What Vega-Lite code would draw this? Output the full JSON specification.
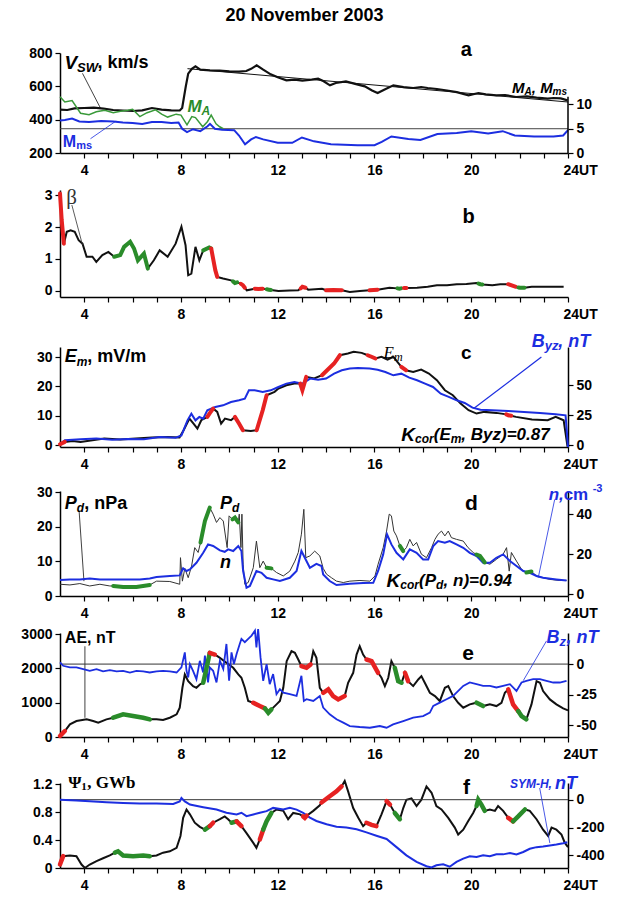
{
"$schema":"https://vega.github.io/schema/vega-lite/v6.json",
"padding":{"left":20,"top":7,"right":5,"bottom":5},
"title":{"text":"20 November 2003","font":"Liberation Sans","fontSize":18,"fontWeight":"bold","color":"#000","anchor":"middle","dx":-8,"offset":15},
"config":{"view":{"stroke":null},"axis":{"labelFont":"Liberation Sans","labelFontSize":14,"labelFontWeight":"bold","labelColor":"#000","domainColor":"#000","domainWidth":1.5,"tickColor":"#000","tickWidth":1.2,"tickSize":5,"grid":false,"labelPadding":3,"labelOverlap":false,"labelFlush":false,"tickCount":100}},
"datasets":{
"vsw":[{"t":3,"v":460},{"t":3.3,"v":458},{"t":3.6,"v":468},{"t":4,"v":470},{"t":4.4,"v":472},{"t":4.8,"v":466},{"t":5.2,"v":458},{"t":5.6,"v":455},{"t":6,"v":452},{"t":6.4,"v":456},{"t":6.8,"v":470},{"t":7.2,"v":460},{"t":7.6,"v":456},{"t":7.95,"v":455},{"t":8.05,"v":470},{"t":8.2,"v":600},{"t":8.3,"v":676},{"t":8.45,"v":705},{"t":8.6,"v":720},{"t":8.8,"v":700},{"t":9.2,"v":696},{"t":9.6,"v":694},{"t":10,"v":690},{"t":10.4,"v":688},{"t":10.7,"v":692},{"t":10.9,"v":705},{"t":11.13,"v":726},{"t":11.4,"v":700},{"t":11.71,"v":672},{"t":12,"v":655},{"t":12.36,"v":636},{"t":12.7,"v":640},{"t":13.02,"v":634},{"t":13.4,"v":640},{"t":13.67,"v":646},{"t":13.9,"v":630},{"t":14.16,"v":606},{"t":14.4,"v":620},{"t":14.82,"v":630},{"t":15.2,"v":615},{"t":15.6,"v":600},{"t":15.9,"v":575},{"t":16.13,"v":560},{"t":16.4,"v":580},{"t":16.78,"v":606},{"t":17.2,"v":595},{"t":17.6,"v":590},{"t":17.93,"v":596},{"t":18.2,"v":590},{"t":18.58,"v":584},{"t":19,"v":575},{"t":19.4,"v":565},{"t":19.89,"v":546},{"t":20.3,"v":560},{"t":20.6,"v":552},{"t":21.04,"v":546},{"t":21.4,"v":548},{"t":21.85,"v":536},{"t":22.3,"v":540},{"t":22.7,"v":532},{"t":23.16,"v":526},{"t":23.4,"v":530},{"t":23.7,"v":528},{"t":23.98,"v":516}],
"ma":[{"t":3,"v":11.6},{"t":3.2,"v":10.5},{"t":3.5,"v":10.8},{"t":3.85,"v":8.2},{"t":4.2,"v":7.9},{"t":4.5,"v":8.5},{"t":4.85,"v":8.8},{"t":5.2,"v":8.3},{"t":5.5,"v":8.6},{"t":5.8,"v":8.8},{"t":6,"v":9},{"t":6.3,"v":7.5},{"t":6.6,"v":8.3},{"t":6.95,"v":8.9},{"t":7.2,"v":8},{"t":7.45,"v":7.4},{"t":7.8,"v":8},{"t":8,"v":7.8},{"t":8.25,"v":5.8},{"t":8.45,"v":7.5},{"t":8.6,"v":7.3},{"t":8.9,"v":5.4},{"t":9.1,"v":6.5},{"t":9.25,"v":7.8},{"t":9.45,"v":6},{"t":9.6,"v":5.4},{"t":9.75,"v":5}],
"mms":[{"t":3,"v":6.7},{"t":3.2,"v":6.8},{"t":3.5,"v":7.1},{"t":3.8,"v":6.5},{"t":4.2,"v":6.4},{"t":4.7,"v":6.6},{"t":5.2,"v":6.5},{"t":5.6,"v":6.3},{"t":6,"v":6.2},{"t":6.4,"v":6},{"t":6.8,"v":6.4},{"t":7.2,"v":6.4},{"t":7.6,"v":6.2},{"t":7.9,"v":6.3},{"t":8.05,"v":5},{"t":8.25,"v":4.3},{"t":8.5,"v":4.9},{"t":8.8,"v":4.5},{"t":9.1,"v":5.5},{"t":9.2,"v":6},{"t":9.4,"v":5},{"t":9.7,"v":4.8},{"t":10.2,"v":4.7},{"t":10.4,"v":3.6},{"t":10.65,"v":1.8},{"t":10.9,"v":2.8},{"t":11.1,"v":3.3},{"t":11.4,"v":2.8},{"t":12,"v":2.1},{"t":12.6,"v":2.1},{"t":13,"v":3.2},{"t":13.5,"v":2.4},{"t":14.2,"v":1.8},{"t":15.3,"v":1.6},{"t":16,"v":1.6},{"t":16.3,"v":2.3},{"t":16.7,"v":3.4},{"t":17.4,"v":2.9},{"t":17.9,"v":2.7},{"t":18.6,"v":3.9},{"t":19.4,"v":4.1},{"t":20,"v":4.5},{"t":20.7,"v":4},{"t":21.3,"v":4.5},{"t":21.8,"v":3.6},{"t":22.6,"v":3.4},{"t":23.4,"v":3.4},{"t":23.8,"v":3.6},{"t":24,"v":4.7}],
"beta":[{"t":3,"v":3.05},{"t":3.07,"v":2.22},{"t":3.16,"v":1.48},{"t":3.28,"v":1.85},{"t":3.44,"v":1.9},{"t":3.61,"v":1.85},{"t":3.77,"v":1.59},{"t":3.93,"v":1.48},{"t":4.1,"v":1.07},{"t":4.34,"v":1.07},{"t":4.5,"v":0.91},{"t":4.75,"v":1.12},{"t":5,"v":1.22},{"t":5.24,"v":1.07},{"t":5.49,"v":1.12},{"t":5.65,"v":1.38},{"t":5.9,"v":1.54},{"t":6.06,"v":1.33},{"t":6.22,"v":0.96},{"t":6.47,"v":1.17},{"t":6.63,"v":0.7},{"t":6.88,"v":0.96},{"t":7.12,"v":1.27},{"t":7.45,"v":1.07},{"t":7.78,"v":1.48},{"t":8.02,"v":2.01},{"t":8.19,"v":1.43},{"t":8.3,"v":0.49},{"t":8.43,"v":0.54},{"t":8.6,"v":1.38},{"t":8.76,"v":0.96},{"t":8.92,"v":1.27},{"t":9.17,"v":1.36},{"t":9.25,"v":1.33},{"t":9.42,"v":0.65},{"t":9.5,"v":0.44},{"t":9.74,"v":0.39},{"t":10.07,"v":0.33},{"t":10.15,"v":0.3},{"t":10.23,"v":0.25},{"t":10.32,"v":0.27},{"t":10.48,"v":0.22},{"t":10.56,"v":0.18},{"t":10.64,"v":0.1},{"t":10.72,"v":0.02},{"t":11.05,"v":0.07},{"t":11.2,"v":0.06},{"t":11.38,"v":0.07},{"t":11.55,"v":0.05},{"t":11.63,"v":0.04},{"t":11.72,"v":0.03},{"t":12.03,"v":0},{"t":12.5,"v":0.01},{"t":12.85,"v":0.02},{"t":12.95,"v":0.08},{"t":13.02,"v":0.13},{"t":13.15,"v":0.1},{"t":13.26,"v":0.04},{"t":13.83,"v":0.07},{"t":14,"v":0.02},{"t":14.3,"v":0.03},{"t":14.65,"v":0.02},{"t":14.98,"v":-0.03},{"t":15.4,"v":0},{"t":15.8,"v":0.02},{"t":16.13,"v":0.04},{"t":16.62,"v":0.1},{"t":16.95,"v":0.08},{"t":17.03,"v":0.07},{"t":17.1,"v":0.08},{"t":17.22,"v":0.09},{"t":17.32,"v":0.09},{"t":17.76,"v":0.1},{"t":18.2,"v":0.13},{"t":18.58,"v":0.18},{"t":19,"v":0.18},{"t":19.4,"v":0.21},{"t":19.8,"v":0.22},{"t":20.22,"v":0.25},{"t":20.3,"v":0.23},{"t":20.38,"v":0.21},{"t":20.46,"v":0.2},{"t":20.87,"v":0.18},{"t":21.2,"v":0.21},{"t":21.53,"v":0.21},{"t":21.85,"v":0.13},{"t":21.95,"v":0.11},{"t":22.02,"v":0.1},{"t":22.2,"v":0.1},{"t":22.5,"v":0.13},{"t":23,"v":0.13},{"t":23.82,"v":0.13}],
"betaH":[{"t":3,"v":3.05,"seg":"r1","k":"R"},{"t":3.07,"v":2.22,"seg":"r1","k":"R"},{"t":3.16,"v":1.48,"seg":"r1","k":"R"},{"t":5.24,"v":1.07,"seg":"g1","k":"G"},{"t":5.49,"v":1.12,"seg":"g1","k":"G"},{"t":5.65,"v":1.38,"seg":"g1","k":"G"},{"t":5.9,"v":1.54,"seg":"g1","k":"G"},{"t":6.06,"v":1.33,"seg":"g1","k":"G"},{"t":6.22,"v":0.96,"seg":"g1","k":"G"},{"t":6.47,"v":1.17,"seg":"g1","k":"G"},{"t":6.63,"v":0.7,"seg":"g1","k":"G"},{"t":8.92,"v":1.27,"seg":"g2","k":"G"},{"t":9.17,"v":1.36,"seg":"g2","k":"G"},{"t":9.25,"v":1.33,"seg":"g2","k":"G"},{"t":9.25,"v":1.33,"seg":"r2","k":"R"},{"t":9.42,"v":0.65,"seg":"r2","k":"R"},{"t":9.5,"v":0.44,"seg":"r2","k":"R"},{"t":10.15,"v":0.3,"seg":"g3","k":"G"},{"t":10.23,"v":0.25,"seg":"g3","k":"G"},{"t":10.32,"v":0.27,"seg":"g3","k":"G"},{"t":10.48,"v":0.22,"seg":"r3","k":"R"},{"t":10.56,"v":0.18,"seg":"r3","k":"R"},{"t":10.64,"v":0.1,"seg":"r3","k":"R"},{"t":11.05,"v":0.07,"seg":"r4","k":"R"},{"t":11.2,"v":0.06,"seg":"r4","k":"R"},{"t":11.38,"v":0.07,"seg":"r4","k":"R"},{"t":11.55,"v":0.05,"seg":"g4","k":"G"},{"t":11.63,"v":0.04,"seg":"g4","k":"G"},{"t":11.72,"v":0.03,"seg":"g4","k":"G"},{"t":12.95,"v":0.08,"seg":"r5","k":"R"},{"t":13.02,"v":0.13,"seg":"r5","k":"R"},{"t":13.15,"v":0.1,"seg":"r5","k":"R"},{"t":14,"v":0.02,"seg":"r6","k":"R"},{"t":14.3,"v":0.03,"seg":"r6","k":"R"},{"t":14.65,"v":0.02,"seg":"r6","k":"R"},{"t":15.8,"v":0.02,"seg":"r7","k":"R"},{"t":16.13,"v":0.04,"seg":"r7","k":"R"},{"t":16.95,"v":0.08,"seg":"g5","k":"G"},{"t":17.03,"v":0.07,"seg":"g5","k":"G"},{"t":17.1,"v":0.08,"seg":"g5","k":"G"},{"t":17.22,"v":0.09,"seg":"r8","k":"R"},{"t":17.32,"v":0.09,"seg":"r8","k":"R"},{"t":20.3,"v":0.23,"seg":"g6","k":"G"},{"t":20.38,"v":0.21,"seg":"g6","k":"G"},{"t":20.46,"v":0.2,"seg":"g6","k":"G"},{"t":21.53,"v":0.21,"seg":"r9","k":"R"},{"t":21.85,"v":0.13,"seg":"r9","k":"R"},{"t":21.95,"v":0.11,"seg":"g7","k":"G"},{"t":22.02,"v":0.1,"seg":"g7","k":"G"},{"t":22.2,"v":0.1,"seg":"g7","k":"G"}],
"em":[{"t":3,"v":0.34},{"t":3.2,"v":1.13},{"t":3.52,"v":1.47},{"t":3.85,"v":1.13},{"t":4.34,"v":1.7},{"t":4.83,"v":2.27},{"t":5.49,"v":1.93},{"t":6.14,"v":2.27},{"t":6.8,"v":2.61},{"t":7.45,"v":2.83},{"t":7.94,"v":2.61},{"t":8.11,"v":5.1},{"t":8.35,"v":9.07},{"t":8.52,"v":7.37},{"t":8.68,"v":5.67},{"t":8.84,"v":8.5},{"t":9.09,"v":9.64},{"t":9.2,"v":11},{"t":9.33,"v":12.47},{"t":9.5,"v":11.34},{"t":9.66,"v":7.37},{"t":9.82,"v":9.07},{"t":10.07,"v":8.5},{"t":10.23,"v":9.64},{"t":10.4,"v":7.37},{"t":10.56,"v":5.1},{"t":10.89,"v":4.88},{"t":11.13,"v":5.1},{"t":11.38,"v":11.9},{"t":11.54,"v":17},{"t":11.87,"v":18.14},{"t":12.03,"v":19.27},{"t":12.36,"v":20.4},{"t":12.69,"v":20.98},{"t":12.93,"v":20.98},{"t":13.02,"v":18.7},{"t":13.18,"v":23.24},{"t":13.51,"v":22.68},{"t":13.83,"v":23.81},{"t":14.33,"v":27.78},{"t":14.57,"v":30.6},{"t":14.9,"v":31.18},{"t":15.14,"v":31.75},{"t":15.47,"v":31.4},{"t":15.72,"v":30.6},{"t":15.9,"v":30},{"t":16.04,"v":29.48},{"t":16.29,"v":30.05},{"t":16.54,"v":29.14},{"t":16.78,"v":30.05},{"t":17.11,"v":26.64},{"t":17.3,"v":25.5},{"t":17.6,"v":24.94},{"t":17.93,"v":25.7},{"t":18.25,"v":24.38},{"t":18.58,"v":22.1},{"t":18.91,"v":18.7},{"t":19.24,"v":17},{"t":19.56,"v":14.17},{"t":19.89,"v":11.9},{"t":20.22,"v":10.77},{"t":20.54,"v":11.34},{"t":21.04,"v":11},{"t":21.45,"v":10.5},{"t":21.53,"v":10.2},{"t":21.65,"v":10},{"t":21.85,"v":9.64},{"t":22.51,"v":8.73},{"t":23.16,"v":8.5},{"t":23.49,"v":9.64},{"t":23.82,"v":8.5},{"t":23.9,"v":4},{"t":23.98,"v":-0.5}],
"emH":[{"t":3,"v":0.34,"seg":"r1","k":"R"},{"t":3.2,"v":1.13,"seg":"r1","k":"R"},{"t":9.09,"v":9.64,"seg":"r2","k":"R"},{"t":9.2,"v":11,"seg":"r2","k":"R"},{"t":9.33,"v":12.47,"seg":"r2","k":"R"},{"t":10.23,"v":9.64,"seg":"r3","k":"R"},{"t":10.4,"v":7.37,"seg":"r3","k":"R"},{"t":10.56,"v":5.1,"seg":"r3","k":"R"},{"t":11.13,"v":5.1,"seg":"r4","k":"R"},{"t":11.38,"v":11.9,"seg":"r4","k":"R"},{"t":11.54,"v":17,"seg":"r4","k":"R"},{"t":12.93,"v":20.98,"seg":"r5","k":"R"},{"t":13.02,"v":18.7,"seg":"r5","k":"R"},{"t":13.18,"v":23.24,"seg":"r5","k":"R"},{"t":13.83,"v":23.81,"seg":"r6","k":"R"},{"t":14.33,"v":27.78,"seg":"r6","k":"R"},{"t":14.57,"v":30.6,"seg":"r6","k":"R"},{"t":15.72,"v":30.6,"seg":"r7","k":"R"},{"t":15.9,"v":30,"seg":"r7","k":"R"},{"t":16.04,"v":29.48,"seg":"r7","k":"R"},{"t":17.11,"v":26.64,"seg":"r8","k":"R"},{"t":17.3,"v":25.5,"seg":"r8","k":"R"},{"t":21.45,"v":10.5,"seg":"r9","k":"R"},{"t":21.53,"v":10.2,"seg":"r9","k":"R"},{"t":21.65,"v":10,"seg":"r9","k":"R"}],
"byz":[{"t":3,"v":0.8},{"t":3.2,"v":4.2},{"t":3.85,"v":5},{"t":4.5,"v":5.6},{"t":5.16,"v":4.7},{"t":5.82,"v":5.3},{"t":6.47,"v":5},{"t":7.12,"v":6.9},{"t":7.78,"v":6.4},{"t":8.02,"v":8.3},{"t":8.27,"v":20.8},{"t":8.43,"v":26.4},{"t":8.6,"v":20.8},{"t":8.76,"v":23.6},{"t":8.92,"v":22.2},{"t":9.09,"v":29.2},{"t":9.42,"v":31.9},{"t":9.74,"v":33.3},{"t":10.07,"v":36.1},{"t":10.4,"v":37.5},{"t":10.64,"v":38.9},{"t":10.81,"v":45.8},{"t":11.05,"v":45.8},{"t":11.38,"v":44.4},{"t":11.71,"v":45.8},{"t":12.03,"v":48.6},{"t":12.36,"v":51.4},{"t":12.69,"v":52.8},{"t":13.02,"v":51.4},{"t":13.34,"v":55.6},{"t":13.67,"v":54.7},{"t":14,"v":55.6},{"t":14.33,"v":59.7},{"t":14.65,"v":62.5},{"t":14.98,"v":63.9},{"t":15.31,"v":64.4},{"t":15.8,"v":63.9},{"t":16.13,"v":63},{"t":16.45,"v":61.1},{"t":16.78,"v":58.3},{"t":17.11,"v":59.7},{"t":17.44,"v":56.4},{"t":17.76,"v":54.2},{"t":18.09,"v":51.4},{"t":18.42,"v":48.6},{"t":18.74,"v":43},{"t":19.07,"v":40.3},{"t":19.4,"v":37.5},{"t":19.73,"v":35.3},{"t":20.05,"v":31.4},{"t":20.38,"v":29.7},{"t":20.87,"v":29.2},{"t":21.53,"v":28.6},{"t":22.18,"v":27.8},{"t":22.84,"v":26.9},{"t":23.49,"v":25.8},{"t":23.9,"v":25},{"t":24,"v":-1.4}],
"pd":[{"t":3,"v":3.4},{"t":3.41,"v":3.2},{"t":3.82,"v":3.6},{"t":4.23,"v":2.9},{"t":4.65,"v":3.4},{"t":5.06,"v":2.9},{"t":5.2,"v":2.9},{"t":5.61,"v":2.6},{"t":6.16,"v":2.6},{"t":6.71,"v":3.2},{"t":6.99,"v":4.3},{"t":7.54,"v":4.2},{"t":7.95,"v":3.4},{"t":7.98,"v":11.1},{"t":8.06,"v":4.3},{"t":8.16,"v":8},{"t":8.3,"v":5.3},{"t":8.44,"v":8.7},{"t":8.57,"v":14},{"t":8.71,"v":12.6},{"t":8.81,"v":15.5},{"t":8.99,"v":21.7},{"t":9.19,"v":25.6},{"t":9.33,"v":23.7},{"t":9.47,"v":21.3},{"t":9.61,"v":22.7},{"t":9.75,"v":21.7},{"t":9.91,"v":14},{"t":9.99,"v":23.2},{"t":10.13,"v":22.2},{"t":10.23,"v":22.7},{"t":10.37,"v":21.3},{"t":10.41,"v":23.7},{"t":10.48,"v":14},{"t":10.52,"v":23.7},{"t":10.57,"v":9.2},{"t":10.64,"v":3.4},{"t":10.78,"v":3.9},{"t":10.99,"v":8.2},{"t":11.12,"v":15.9},{"t":11.26,"v":8.2},{"t":11.4,"v":10.1},{"t":11.54,"v":8.2},{"t":11.74,"v":8},{"t":11.95,"v":6.8},{"t":12.23,"v":5.8},{"t":12.5,"v":7.2},{"t":12.71,"v":10.1},{"t":12.85,"v":12.6},{"t":12.98,"v":17.9},{"t":13.08,"v":25.1},{"t":13.16,"v":11.1},{"t":13.33,"v":11.6},{"t":13.53,"v":13},{"t":13.74,"v":11.6},{"t":13.88,"v":8},{"t":14.02,"v":6.3},{"t":14.22,"v":5.3},{"t":14.43,"v":4.3},{"t":14.71,"v":3.9},{"t":14.98,"v":4.3},{"t":15.4,"v":4.5},{"t":15.81,"v":4.3},{"t":16.02,"v":5.8},{"t":16.15,"v":9.2},{"t":16.36,"v":14},{"t":16.5,"v":18.8},{"t":16.61,"v":23.7},{"t":16.7,"v":23.2},{"t":16.8,"v":18.8},{"t":16.91,"v":17.4},{"t":17.05,"v":14.5},{"t":17.19,"v":13},{"t":17.32,"v":14},{"t":17.46,"v":16.4},{"t":17.6,"v":14.5},{"t":17.74,"v":15.5},{"t":17.94,"v":12.1},{"t":18.15,"v":11.1},{"t":18.36,"v":14},{"t":18.5,"v":16.4},{"t":18.63,"v":17.9},{"t":18.77,"v":18.8},{"t":18.91,"v":17.4},{"t":19.05,"v":18.8},{"t":19.18,"v":16.9},{"t":19.39,"v":16.4},{"t":19.67,"v":15.9},{"t":19.87,"v":14},{"t":20.08,"v":12.6},{"t":20.22,"v":12},{"t":20.36,"v":11.6},{"t":20.56,"v":9.7},{"t":20.77,"v":9.2},{"t":21.04,"v":10.6},{"t":21.32,"v":12.1},{"t":21.46,"v":14},{"t":21.57,"v":7.2},{"t":21.66,"v":12.6},{"t":21.87,"v":10.1},{"t":22.08,"v":7.7},{"t":22.28,"v":6.8},{"t":22.49,"v":7.1},{"t":22.7,"v":5.8},{"t":22.97,"v":5.3},{"t":23.25,"v":4.8},{"t":23.66,"v":4.5},{"t":23.94,"v":4.5}],
"pdH":[{"t":5.2,"v":2.9,"seg":"g1","k":"G"},{"t":5.61,"v":2.6,"seg":"g1","k":"G"},{"t":6.16,"v":2.6,"seg":"g1","k":"G"},{"t":6.71,"v":3.2,"seg":"g1","k":"G"},{"t":8.81,"v":15.5,"seg":"g2","k":"G"},{"t":8.99,"v":21.7,"seg":"g2","k":"G"},{"t":9.19,"v":25.6,"seg":"g2","k":"G"},{"t":10.13,"v":22.2,"seg":"g3","k":"G"},{"t":10.23,"v":22.7,"seg":"g3","k":"G"},{"t":10.37,"v":21.3,"seg":"g3","k":"G"},{"t":11.54,"v":8.2,"seg":"g4","k":"G"},{"t":11.74,"v":8,"seg":"g4","k":"G"},{"t":17.05,"v":14.5,"seg":"g5","k":"G"},{"t":17.19,"v":13,"seg":"g5","k":"G"},{"t":20.22,"v":12,"seg":"g6","k":"G"},{"t":20.36,"v":11.6,"seg":"g6","k":"G"},{"t":20.56,"v":9.7,"seg":"g6","k":"G"},{"t":22.28,"v":6.8,"seg":"g7","k":"G"},{"t":22.49,"v":7.1,"seg":"g7","k":"G"}],
"n":[{"t":3,"v":7.2},{"t":3.41,"v":7.5},{"t":3.82,"v":7.5},{"t":4.23,"v":8},{"t":4.65,"v":7.5},{"t":5.61,"v":7.5},{"t":6.3,"v":7.5},{"t":6.71,"v":8},{"t":6.99,"v":8.7},{"t":7.54,"v":9.2},{"t":7.95,"v":9.5},{"t":8.09,"v":13},{"t":8.23,"v":11.7},{"t":8.37,"v":12.5},{"t":8.64,"v":15.8},{"t":8.92,"v":20.8},{"t":9.12,"v":25},{"t":9.33,"v":24.2},{"t":9.61,"v":22},{"t":9.81,"v":21.3},{"t":9.95,"v":22.5},{"t":10.16,"v":21.7},{"t":10.37,"v":24.2},{"t":10.5,"v":21.7},{"t":10.57,"v":11.7},{"t":10.71,"v":3.3},{"t":10.85,"v":4.2},{"t":11.12,"v":11.7},{"t":11.33,"v":10.8},{"t":11.54,"v":8.3},{"t":11.81,"v":7.5},{"t":12.09,"v":6.7},{"t":12.5,"v":8.3},{"t":12.78,"v":11.7},{"t":12.98,"v":21.7},{"t":13.12,"v":18.3},{"t":13.33,"v":13.3},{"t":13.6,"v":15.3},{"t":13.81,"v":14.2},{"t":13.88,"v":10},{"t":14.15,"v":6.7},{"t":14.43,"v":4.7},{"t":14.98,"v":5.3},{"t":15.53,"v":5.7},{"t":15.95,"v":5.8},{"t":16.15,"v":11.7},{"t":16.36,"v":20},{"t":16.52,"v":30},{"t":16.7,"v":25},{"t":16.91,"v":20.8},{"t":17.19,"v":17.5},{"t":17.46,"v":22.5},{"t":17.74,"v":20.8},{"t":18.01,"v":17.5},{"t":18.22,"v":17.5},{"t":18.43,"v":24.2},{"t":18.63,"v":26.7},{"t":18.91,"v":25.8},{"t":19.11,"v":26.7},{"t":19.39,"v":25},{"t":19.67,"v":23.3},{"t":19.94,"v":20.8},{"t":20.22,"v":19.2},{"t":20.49,"v":15.8},{"t":20.77,"v":15.8},{"t":21.04,"v":18.3},{"t":21.32,"v":20},{"t":21.6,"v":16.7},{"t":21.87,"v":14.2},{"t":22.15,"v":11.7},{"t":22.42,"v":10.8},{"t":22.7,"v":9.2},{"t":22.97,"v":8.3},{"t":23.52,"v":7.5},{"t":23.94,"v":7}],
"ae":[{"t":3,"v":29},{"t":3.2,"v":174},{"t":3.41,"v":368},{"t":3.68,"v":465},{"t":4.1,"v":514},{"t":4.37,"v":465},{"t":4.58,"v":417},{"t":4.92,"v":514},{"t":5.2,"v":562},{"t":5.61,"v":659},{"t":6.02,"v":610},{"t":6.44,"v":562},{"t":6.71,"v":514},{"t":6.99,"v":514},{"t":7.26,"v":494},{"t":7.54,"v":562},{"t":7.82,"v":659},{"t":7.95,"v":853},{"t":8.06,"v":1434},{"t":8.16,"v":1822},{"t":8.3,"v":1628},{"t":8.5,"v":1483},{"t":8.64,"v":1434},{"t":8.78,"v":1531},{"t":8.92,"v":1580},{"t":9.06,"v":2016},{"t":9.19,"v":2452},{"t":9.4,"v":2403},{"t":9.61,"v":2306},{"t":9.88,"v":2161},{"t":10.16,"v":2016},{"t":10.37,"v":1822},{"t":10.5,"v":1725},{"t":10.64,"v":1434},{"t":10.78,"v":1047},{"t":10.99,"v":998},{"t":11.26,"v":901},{"t":11.47,"v":833},{"t":11.61,"v":707},{"t":11.74,"v":804},{"t":11.95,"v":950},{"t":12.09,"v":1047},{"t":12.23,"v":1434},{"t":12.37,"v":2209},{"t":12.57,"v":2500},{"t":12.71,"v":2452},{"t":12.85,"v":2258},{"t":12.98,"v":2064},{"t":13.19,"v":2016},{"t":13.36,"v":2113},{"t":13.47,"v":2500},{"t":13.6,"v":2306},{"t":13.74,"v":1434},{"t":13.88,"v":1289},{"t":14.09,"v":1386},{"t":14.29,"v":1192},{"t":14.5,"v":1095},{"t":14.77,"v":1192},{"t":14.91,"v":1580},{"t":15.12,"v":1870},{"t":15.26,"v":2403},{"t":15.39,"v":2645},{"t":15.53,"v":2403},{"t":15.67,"v":2258},{"t":15.88,"v":2210},{"t":16.15,"v":1870},{"t":16.29,"v":1725},{"t":16.43,"v":1483},{"t":16.57,"v":1725},{"t":16.7,"v":2209},{"t":16.84,"v":2016},{"t":16.98,"v":1628},{"t":17.12,"v":1580},{"t":17.26,"v":1870},{"t":17.39,"v":1628},{"t":17.6,"v":1483},{"t":17.81,"v":1677},{"t":17.94,"v":1773},{"t":18.08,"v":1580},{"t":18.29,"v":1289},{"t":18.5,"v":1192},{"t":18.7,"v":1047},{"t":18.91,"v":1434},{"t":19.05,"v":1483},{"t":19.25,"v":1192},{"t":19.46,"v":998},{"t":19.67,"v":853},{"t":19.94,"v":950},{"t":20.22,"v":1000},{"t":20.49,"v":901},{"t":20.77,"v":950},{"t":21.04,"v":901},{"t":21.25,"v":998},{"t":21.39,"v":1289},{"t":21.53,"v":1386},{"t":21.73,"v":950},{"t":21.94,"v":756},{"t":22.08,"v":610},{"t":22.28,"v":514},{"t":22.49,"v":950},{"t":22.7,"v":1628},{"t":22.84,"v":1580},{"t":22.97,"v":1337},{"t":23.25,"v":1095},{"t":23.52,"v":950},{"t":23.8,"v":833},{"t":24,"v":775}],
"aeH":[{"t":3,"v":29,"seg":"r1","k":"R"},{"t":3.2,"v":174,"seg":"r1","k":"R"},{"t":5.2,"v":562,"seg":"g1","k":"G"},{"t":5.61,"v":659,"seg":"g1","k":"G"},{"t":6.02,"v":610,"seg":"g1","k":"G"},{"t":6.44,"v":562,"seg":"g1","k":"G"},{"t":6.71,"v":514,"seg":"g1","k":"G"},{"t":8.92,"v":1580,"seg":"g2","k":"G"},{"t":9.06,"v":2016,"seg":"g2","k":"G"},{"t":9.19,"v":2452,"seg":"g2","k":"G"},{"t":9.19,"v":2452,"seg":"r2","k":"R"},{"t":9.4,"v":2403,"seg":"r2","k":"R"},{"t":10.99,"v":998,"seg":"r3","k":"R"},{"t":11.26,"v":901,"seg":"r3","k":"R"},{"t":11.47,"v":833,"seg":"r3","k":"R"},{"t":11.47,"v":833,"seg":"g3","k":"G"},{"t":11.61,"v":707,"seg":"g3","k":"G"},{"t":11.74,"v":804,"seg":"g3","k":"G"},{"t":12.98,"v":2064,"seg":"r4","k":"R"},{"t":13.19,"v":2016,"seg":"r4","k":"R"},{"t":13.36,"v":2113,"seg":"r4","k":"R"},{"t":13.88,"v":1289,"seg":"r5","k":"R"},{"t":14.09,"v":1386,"seg":"r5","k":"R"},{"t":14.29,"v":1192,"seg":"r5","k":"R"},{"t":14.5,"v":1095,"seg":"r5","k":"R"},{"t":14.77,"v":1192,"seg":"r5","k":"R"},{"t":15.67,"v":2258,"seg":"r6","k":"R"},{"t":15.88,"v":2210,"seg":"r6","k":"R"},{"t":16.15,"v":1870,"seg":"r6","k":"R"},{"t":16.84,"v":2016,"seg":"g4","k":"G"},{"t":16.98,"v":1628,"seg":"g4","k":"G"},{"t":17.12,"v":1580,"seg":"g4","k":"G"},{"t":17.26,"v":1870,"seg":"r7","k":"R"},{"t":17.39,"v":1628,"seg":"r7","k":"R"},{"t":20.22,"v":1000,"seg":"g5","k":"G"},{"t":20.49,"v":901,"seg":"g5","k":"G"},{"t":21.53,"v":1386,"seg":"r8","k":"R"},{"t":21.73,"v":950,"seg":"r8","k":"R"},{"t":21.94,"v":756,"seg":"r8","k":"R"},{"t":21.94,"v":756,"seg":"g6","k":"G"},{"t":22.08,"v":610,"seg":"g6","k":"G"},{"t":22.28,"v":514,"seg":"g6","k":"G"}],
"bz":[{"t":3,"v":1.4},{"t":3.13,"v":-1.4},{"t":3.41,"v":-2.7},{"t":3.68,"v":-2.7},{"t":3.96,"v":-4.1},{"t":4.23,"v":-5.5},{"t":4.51,"v":-4.1},{"t":4.78,"v":-6},{"t":5.06,"v":-4.9},{"t":5.34,"v":-6},{"t":5.61,"v":-5.5},{"t":5.89,"v":-6.9},{"t":6.16,"v":-5.5},{"t":6.44,"v":-6},{"t":6.71,"v":-6.9},{"t":6.99,"v":-6},{"t":7.26,"v":-5.5},{"t":7.54,"v":-6},{"t":7.82,"v":-6.9},{"t":8.02,"v":-2.7},{"t":8.16,"v":9.6},{"t":8.23,"v":-5.5},{"t":8.3,"v":-11},{"t":8.37,"v":0},{"t":8.5,"v":-5.5},{"t":8.64,"v":-12.4},{"t":8.78,"v":2.7},{"t":8.92,"v":-6.9},{"t":8.99,"v":6.9},{"t":9.12,"v":-15},{"t":9.19,"v":-2.7},{"t":9.33,"v":-5.5},{"t":9.47,"v":-15},{"t":9.61,"v":2.7},{"t":9.75,"v":-4.1},{"t":9.88,"v":16.5},{"t":9.99,"v":-13.7},{"t":10.09,"v":9.6},{"t":10.19,"v":0},{"t":10.3,"v":8.2},{"t":10.43,"v":16.5},{"t":10.5,"v":20.6},{"t":10.64,"v":17.9},{"t":10.78,"v":20.6},{"t":10.92,"v":23.4},{"t":11.06,"v":27.5},{"t":11.12,"v":13.7},{"t":11.19,"v":28.8},{"t":11.29,"v":5.5},{"t":11.4,"v":-13.7},{"t":11.54,"v":0},{"t":11.67,"v":-16.5},{"t":11.81,"v":-8.2},{"t":11.95,"v":-24.7},{"t":12.09,"v":-20.6},{"t":12.23,"v":-23.4},{"t":12.5,"v":-24.7},{"t":12.78,"v":-26.1},{"t":12.98,"v":-9.6},{"t":13.08,"v":-30.2},{"t":13.19,"v":-28.8},{"t":13.47,"v":-30.2},{"t":13.74,"v":-26.1},{"t":13.88,"v":-35.7},{"t":14.15,"v":-41.2},{"t":14.43,"v":-45.3},{"t":14.71,"v":-48},{"t":14.98,"v":-50.8},{"t":15.39,"v":-51.6},{"t":15.81,"v":-52.2},{"t":16.22,"v":-50.8},{"t":16.5,"v":-52.2},{"t":16.77,"v":-49.5},{"t":17.19,"v":-46.7},{"t":17.6,"v":-44},{"t":18.01,"v":-42.6},{"t":18.29,"v":-39.8},{"t":18.43,"v":-34.3},{"t":18.7,"v":-31.6},{"t":18.98,"v":-28.8},{"t":19.25,"v":-26.1},{"t":19.39,"v":-23.4},{"t":19.67,"v":-17.9},{"t":19.94,"v":-15.1},{"t":20.22,"v":-16.5},{"t":20.49,"v":-17.9},{"t":20.77,"v":-17.9},{"t":21.04,"v":-19.2},{"t":21.32,"v":-17.9},{"t":21.6,"v":-16.5},{"t":21.87,"v":-22},{"t":22.08,"v":-15.1},{"t":22.28,"v":-13.7},{"t":22.56,"v":-12.4},{"t":22.84,"v":-12.4},{"t":23.11,"v":-13.7},{"t":23.39,"v":-15.1},{"t":23.66,"v":-15.1},{"t":23.94,"v":-13.7}],
"psi":[{"t":3,"v":0.05},{"t":3.13,"v":0.17},{"t":3.41,"v":0.18},{"t":3.68,"v":0.17},{"t":3.89,"v":0.05},{"t":4.03,"v":0},{"t":4.23,"v":0.05},{"t":4.51,"v":0.1},{"t":4.78,"v":0.14},{"t":5.06,"v":0.18},{"t":5.27,"v":0.22},{"t":5.4,"v":0.24},{"t":5.61,"v":0.18},{"t":6.02,"v":0.17},{"t":6.44,"v":0.18},{"t":6.71,"v":0.17},{"t":6.99,"v":0.18},{"t":7.26,"v":0.22},{"t":7.54,"v":0.24},{"t":7.82,"v":0.29},{"t":7.98,"v":0.46},{"t":8.09,"v":0.72},{"t":8.23,"v":0.84},{"t":8.37,"v":0.77},{"t":8.57,"v":0.65},{"t":8.78,"v":0.59},{"t":8.99,"v":0.55},{"t":9.19,"v":0.6},{"t":9.33,"v":0.65},{"t":9.61,"v":0.7},{"t":9.81,"v":0.74},{"t":9.95,"v":0.7},{"t":10.09,"v":0.65},{"t":10.3,"v":0.67},{"t":10.5,"v":0.6},{"t":10.71,"v":0.5},{"t":10.99,"v":0.36},{"t":11.12,"v":0.29},{"t":11.26,"v":0.41},{"t":11.4,"v":0.55},{"t":11.54,"v":0.67},{"t":11.74,"v":0.79},{"t":11.95,"v":0.84},{"t":12.23,"v":0.82},{"t":12.43,"v":0.7},{"t":12.64,"v":0.79},{"t":12.92,"v":0.77},{"t":13.05,"v":0.74},{"t":13.12,"v":0.72},{"t":13.2,"v":0.75},{"t":13.47,"v":0.82},{"t":13.74,"v":0.9},{"t":13.81,"v":0.94},{"t":14.15,"v":1.03},{"t":14.43,"v":1.1},{"t":14.64,"v":1.17},{"t":14.77,"v":1.25},{"t":14.91,"v":1.1},{"t":15.12,"v":0.86},{"t":15.33,"v":0.72},{"t":15.53,"v":0.6},{"t":15.67,"v":0.65},{"t":15.88,"v":0.62},{"t":16.08,"v":0.6},{"t":16.29,"v":0.77},{"t":16.5,"v":0.96},{"t":16.64,"v":0.91},{"t":16.84,"v":0.79},{"t":17.05,"v":0.7},{"t":17.19,"v":0.86},{"t":17.32,"v":0.98},{"t":17.53,"v":1},{"t":17.74,"v":0.89},{"t":17.94,"v":0.98},{"t":18.15,"v":1.17},{"t":18.36,"v":1.08},{"t":18.56,"v":0.89},{"t":18.77,"v":0.84},{"t":19.05,"v":0.72},{"t":19.32,"v":0.58},{"t":19.46,"v":0.48},{"t":19.67,"v":0.55},{"t":19.87,"v":0.67},{"t":20.08,"v":0.79},{"t":20.22,"v":0.89},{"t":20.29,"v":0.98},{"t":20.42,"v":0.91},{"t":20.56,"v":0.82},{"t":20.77,"v":0.84},{"t":20.98,"v":0.82},{"t":21.11,"v":0.89},{"t":21.32,"v":0.82},{"t":21.53,"v":0.72},{"t":21.73,"v":0.67},{"t":21.94,"v":0.74},{"t":22.22,"v":0.84},{"t":22.42,"v":0.82},{"t":22.7,"v":0.7},{"t":22.97,"v":0.55},{"t":23.18,"v":0.46},{"t":23.32,"v":0.58},{"t":23.52,"v":0.55},{"t":23.73,"v":0.48},{"t":23.87,"v":0.36},{"t":24,"v":0.3}],
"psiH":[{"t":3,"v":0.05,"seg":"r1","k":"R"},{"t":3.13,"v":0.17,"seg":"r1","k":"R"},{"t":5.27,"v":0.22,"seg":"g1","k":"G"},{"t":5.4,"v":0.24,"seg":"g1","k":"G"},{"t":5.61,"v":0.18,"seg":"g1","k":"G"},{"t":6.02,"v":0.17,"seg":"g1","k":"G"},{"t":6.44,"v":0.18,"seg":"g1","k":"G"},{"t":6.71,"v":0.17,"seg":"g1","k":"G"},{"t":8.99,"v":0.55,"seg":"g2","k":"G"},{"t":9.19,"v":0.6,"seg":"g2","k":"G"},{"t":9.19,"v":0.6,"seg":"r2","k":"R"},{"t":9.33,"v":0.65,"seg":"r2","k":"R"},{"t":10.09,"v":0.65,"seg":"g3","k":"G"},{"t":10.3,"v":0.67,"seg":"g3","k":"G"},{"t":10.3,"v":0.67,"seg":"r3","k":"R"},{"t":10.5,"v":0.6,"seg":"r3","k":"R"},{"t":11.26,"v":0.41,"seg":"r4","k":"R"},{"t":11.4,"v":0.55,"seg":"r4","k":"R"},{"t":11.4,"v":0.55,"seg":"g4","k":"G"},{"t":11.54,"v":0.67,"seg":"g4","k":"G"},{"t":11.74,"v":0.79,"seg":"g4","k":"G"},{"t":13.05,"v":0.74,"seg":"r5","k":"R"},{"t":13.12,"v":0.72,"seg":"r5","k":"R"},{"t":13.2,"v":0.75,"seg":"r5","k":"R"},{"t":13.81,"v":0.94,"seg":"r6","k":"R"},{"t":14.15,"v":1.03,"seg":"r6","k":"R"},{"t":14.43,"v":1.1,"seg":"r6","k":"R"},{"t":14.64,"v":1.17,"seg":"r6","k":"R"},{"t":15.67,"v":0.65,"seg":"r7","k":"R"},{"t":15.88,"v":0.62,"seg":"r7","k":"R"},{"t":16.08,"v":0.6,"seg":"r7","k":"R"},{"t":16.5,"v":0.96,"seg":"r8","k":"R"},{"t":16.64,"v":0.91,"seg":"r8","k":"R"},{"t":16.84,"v":0.79,"seg":"g5","k":"G"},{"t":17.05,"v":0.7,"seg":"g5","k":"G"},{"t":20.22,"v":0.89,"seg":"g6","k":"G"},{"t":20.29,"v":0.98,"seg":"g6","k":"G"},{"t":20.42,"v":0.91,"seg":"g6","k":"G"},{"t":20.56,"v":0.82,"seg":"g6","k":"G"},{"t":21.53,"v":0.72,"seg":"r9","k":"R"},{"t":21.73,"v":0.67,"seg":"r9","k":"R"},{"t":21.73,"v":0.67,"seg":"g7","k":"G"},{"t":21.94,"v":0.74,"seg":"g7","k":"G"},{"t":22.22,"v":0.84,"seg":"g7","k":"G"}],
"sym":[{"t":3,"v":0},{"t":3.68,"v":-5},{"t":4.23,"v":-12},{"t":4.92,"v":-19},{"t":5.61,"v":-24},{"t":6.3,"v":-28},{"t":6.99,"v":-28},{"t":7.68,"v":-31},{"t":7.95,"v":-12},{"t":8.02,"v":12},{"t":8.16,"v":-12},{"t":8.37,"v":-35},{"t":8.92,"v":-54},{"t":9.47,"v":-71},{"t":9.88,"v":-94},{"t":10.3,"v":-106},{"t":10.5,"v":-94},{"t":10.71,"v":-118},{"t":10.99,"v":-106},{"t":11.26,"v":-94},{"t":11.54,"v":-82},{"t":11.81,"v":-59},{"t":12.23,"v":-71},{"t":12.5,"v":-59},{"t":12.78,"v":-71},{"t":13.05,"v":-94},{"t":13.33,"v":-129},{"t":13.6,"v":-153},{"t":14.02,"v":-176},{"t":14.43,"v":-195},{"t":14.84,"v":-200},{"t":15.26,"v":-212},{"t":15.67,"v":-235},{"t":16.08,"v":-259},{"t":16.5,"v":-282},{"t":16.91,"v":-341},{"t":17.32,"v":-400},{"t":17.74,"v":-447},{"t":18.15,"v":-478},{"t":18.36,"v":-487},{"t":18.56,"v":-471},{"t":18.84,"v":-464},{"t":19.11,"v":-482},{"t":19.39,"v":-447},{"t":19.67,"v":-424},{"t":19.94,"v":-407},{"t":20.22,"v":-412},{"t":20.49,"v":-400},{"t":20.77,"v":-407},{"t":21.04,"v":-393},{"t":21.32,"v":-393},{"t":21.6,"v":-384},{"t":21.87,"v":-393},{"t":22.15,"v":-376},{"t":22.42,"v":-353},{"t":22.7,"v":-341},{"t":22.97,"v":-336},{"t":23.25,"v":-329},{"t":23.52,"v":-322},{"t":23.8,"v":-313},{"t":23.97,"v":-306}]
},
"bounds":"flush","spacing":37,
"vconcat":[
{"width":508,"height":100,"resolve":{"scale":{"y":"independent"}},"layer":[
 {"layer":[
  {"data":{"name":"vsw"},"mark":{"type":"line","color":"#111","strokeWidth":2.2},"encoding":{"x":{"field":"t","type":"quantitative","scale":{"domain":[3,24],"nice":false,"zero":false},"axis":{"title":null,"tickCount":100,"format":"d","values":[4,5,6,7,8,9,10,11,12,13,14,15,16,17,18,19,20,21,22,23,24],"labelExpr":"datum.value == 24 ? '24UT' : (datum.value % 4 == 0 ? datum.label : '')","labelAlign":{"condition":{"test":"datum.value == 24","value":"left"},"value":"center"},"labelOffset":{"condition":{"test":"datum.value == 24","value":-5},"value":0},"labelOverlap":false,"labelFlush":false,"labelPadding":5}},"y":{"field":"v","type":"quantitative","scale":{"domain":[200,800],"nice":false,"zero":false},"axis":{"title":null,"tickCount":100,"format":"d","values":[200,400,600,800]}}}},
  {"data":{"values":[{}]},"mark":{"type":"rule","color":"#111","strokeWidth":1},"encoding":{"x":{"datum":8.27,"type":"quantitative","scale":{"domain":[3,24],"nice":false,"zero":false}},"y":{"datum":706,"type":"quantitative","scale":{"domain":[200,800],"nice":false,"zero":false}},"x2":{"datum":24},"y2":{"datum":506}}},
  {"data":{"values":[{}]},"mark":{"type":"rule","color":"#111","strokeWidth":0.8},"encoding":{"x":{"datum":3.93,"type":"quantitative","scale":{"domain":[3,24],"nice":false,"zero":false}},"y":{"datum":678,"type":"quantitative","scale":{"domain":[200,800],"nice":false,"zero":false}},"x2":{"datum":4.67},"y2":{"datum":470}}},
  {"data":{"values":[{}]},"mark":{"type":"text","text":"V","font":"Liberation Sans","fontSize":19,"fontStyle":"italic","fontWeight":"bold","align":"left","baseline":"middle","color":"#000"},"encoding":{"x":{"datum":3.19,"type":"quantitative","scale":{"domain":[3,24],"nice":false,"zero":false}},"y":{"datum":740,"type":"quantitative","scale":{"domain":[200,800],"nice":false,"zero":false}}}},
  {"data":{"values":[{}]},"mark":{"type":"text","text":"SW","font":"Liberation Sans","fontSize":13,"fontStyle":"italic","fontWeight":"bold","align":"left","baseline":"middle","color":"#000","dx":12.5,"dy":5},"encoding":{"x":{"datum":3.19,"type":"quantitative","scale":{"domain":[3,24],"nice":false,"zero":false}},"y":{"datum":740,"type":"quantitative","scale":{"domain":[200,800],"nice":false,"zero":false}}}},
  {"data":{"values":[{}]},"mark":{"type":"text","text":", km/s","font":"Liberation Sans","fontSize":18,"fontWeight":"bold","align":"left","baseline":"middle","color":"#000","dx":33},"encoding":{"x":{"datum":3.19,"type":"quantitative","scale":{"domain":[3,24],"nice":false,"zero":false}},"y":{"datum":740,"type":"quantitative","scale":{"domain":[200,800],"nice":false,"zero":false}}}},
  {"data":{"values":[{}]},"mark":{"type":"text","text":"a","font":"Liberation Sans","fontSize":20,"fontWeight":"bold","align":"center","baseline":"middle","color":"#000"},"encoding":{"x":{"datum":19.8,"type":"quantitative","scale":{"domain":[3,24],"nice":false,"zero":false}},"y":{"datum":818,"type":"quantitative","scale":{"domain":[200,800],"nice":false,"zero":false}}}}
 ]},
 {"layer":[
  {"data":{"values":[{}]},"mark":{"type":"rule","color":"#444","strokeWidth":1},"encoding":{"y":{"datum":5,"type":"quantitative","scale":{"domain":[0,20.6],"nice":false,"zero":false},"axis":{"title":null,"tickCount":100,"format":"d","orient":"right","values":[0,5,10],"domain":false}}}},
  {"data":{"name":"ma"},"mark":{"type":"line","color":"#3a9a3a","strokeWidth":1.5},"encoding":{"x":{"field":"t","type":"quantitative","scale":{"domain":[3,24],"nice":false,"zero":false}},"y":{"field":"v","type":"quantitative","scale":{"domain":[0,20.6],"nice":false,"zero":false}}}},
  {"data":{"name":"mms"},"mark":{"type":"line","color":"#1c2ee0","strokeWidth":2},"encoding":{"x":{"field":"t","type":"quantitative","scale":{"domain":[3,24],"nice":false,"zero":false}},"y":{"field":"v","type":"quantitative","scale":{"domain":[0,20.6],"nice":false,"zero":false}}}},
  {"data":{"values":[{}]},"mark":{"type":"rule","color":"#000","strokeWidth":1.5},"encoding":{"x":{"datum":24,"type":"quantitative","scale":{"domain":[3,24],"nice":false,"zero":false}},"y":{"datum":0,"type":"quantitative","scale":{"domain":[0,20.6],"nice":false,"zero":false}},"y2":{"datum":11.6}}},
  {"data":{"values":[{}]},"mark":{"type":"rule","color":"#1c2ee0","strokeWidth":0.8},"encoding":{"x":{"datum":4.26,"type":"quantitative","scale":{"domain":[3,24],"nice":false,"zero":false}},"y":{"datum":2.94,"type":"quantitative","scale":{"domain":[0,20.6],"nice":false,"zero":false}},"x2":{"datum":5.32},"y2":{"datum":6.6}}},
  {"data":{"values":[{}]},"mark":{"type":"text","text":"M","font":"Liberation Sans","fontSize":15,"fontStyle":"italic","fontWeight":"bold","align":"left","baseline":"middle","color":"#000"},"encoding":{"x":{"datum":21.69,"type":"quantitative","scale":{"domain":[3,24],"nice":false,"zero":false}},"y":{"datum":13.35,"type":"quantitative","scale":{"domain":[0,20.6],"nice":false,"zero":false}}}},
  {"data":{"values":[{}]},"mark":{"type":"text","text":"A","font":"Liberation Sans","fontSize":10,"fontStyle":"italic","fontWeight":"bold","align":"left","baseline":"middle","color":"#000","dx":12.5,"dy":4},"encoding":{"x":{"datum":21.69,"type":"quantitative","scale":{"domain":[3,24],"nice":false,"zero":false}},"y":{"datum":13.35,"type":"quantitative","scale":{"domain":[0,20.6],"nice":false,"zero":false}}}},
  {"data":{"values":[{}]},"mark":{"type":"text","text":", M","font":"Liberation Sans","fontSize":15,"fontStyle":"italic","fontWeight":"bold","align":"left","baseline":"middle","color":"#000","dx":19.7},"encoding":{"x":{"datum":21.69,"type":"quantitative","scale":{"domain":[3,24],"nice":false,"zero":false}},"y":{"datum":13.35,"type":"quantitative","scale":{"domain":[0,20.6],"nice":false,"zero":false}}}},
  {"data":{"values":[{}]},"mark":{"type":"text","text":"ms","font":"Liberation Sans","fontSize":10,"fontStyle":"italic","fontWeight":"bold","align":"left","baseline":"middle","color":"#000","dx":40.5,"dy":4},"encoding":{"x":{"datum":21.69,"type":"quantitative","scale":{"domain":[3,24],"nice":false,"zero":false}},"y":{"datum":13.35,"type":"quantitative","scale":{"domain":[0,20.6],"nice":false,"zero":false}}}},
  {"data":{"values":[{}]},"mark":{"type":"text","text":"M","font":"Liberation Sans","fontSize":17,"fontStyle":"italic","fontWeight":"bold","align":"left","baseline":"middle","color":"#2a8c2a"},"encoding":{"x":{"datum":8.27,"type":"quantitative","scale":{"domain":[3,24],"nice":false,"zero":false}},"y":{"datum":9.48,"type":"quantitative","scale":{"domain":[0,20.6],"nice":false,"zero":false}}}},
  {"data":{"values":[{}]},"mark":{"type":"text","text":"A","font":"Liberation Sans","fontSize":12,"fontStyle":"italic","fontWeight":"bold","align":"left","baseline":"middle","color":"#2a8c2a","dx":14,"dy":4},"encoding":{"x":{"datum":8.27,"type":"quantitative","scale":{"domain":[3,24],"nice":false,"zero":false}},"y":{"datum":9.48,"type":"quantitative","scale":{"domain":[0,20.6],"nice":false,"zero":false}}}},
  {"data":{"values":[{}]},"mark":{"type":"text","text":"M","font":"Liberation Sans","fontSize":16,"fontWeight":"bold","align":"left","baseline":"middle","color":"#1c2ee0"},"encoding":{"x":{"datum":3.11,"type":"quantitative","scale":{"domain":[3,24],"nice":false,"zero":false}},"y":{"datum":2.24,"type":"quantitative","scale":{"domain":[0,20.6],"nice":false,"zero":false}}}},
  {"data":{"values":[{}]},"mark":{"type":"text","text":"ms","font":"Liberation Sans","fontSize":11,"fontWeight":"bold","align":"left","baseline":"middle","color":"#1c2ee0","dx":13.5,"dy":4},"encoding":{"x":{"datum":3.11,"type":"quantitative","scale":{"domain":[3,24],"nice":false,"zero":false}},"y":{"datum":2.24,"type":"quantitative","scale":{"domain":[0,20.6],"nice":false,"zero":false}}}}
 ]}
]},
{"bounds":"flush","spacing":50,"vconcat":[
{"width":508,"height":107,"layer":[
  {"data":{"name":"beta"},"mark":{"type":"line","color":"#111","strokeWidth":2},"encoding":{"x":{"field":"t","type":"quantitative","scale":{"domain":[3,24],"nice":false,"zero":false},"axis":{"title":null,"tickCount":100,"format":"d","values":[4,5,6,7,8,9,10,11,12,13,14,15,16,17,18,19,20,21,22,23,24],"labelExpr":"datum.value == 24 ? '24UT' : (datum.value % 4 == 0 ? datum.label : '')","labelAlign":{"condition":{"test":"datum.value == 24","value":"left"},"value":"center"},"labelOffset":{"condition":{"test":"datum.value == 24","value":-5},"value":0},"labelOverlap":false,"labelFlush":false,"labelPadding":5}},"y":{"field":"v","type":"quantitative","scale":{"domain":[-0.19,3.16],"nice":false,"zero":false},"axis":{"title":null,"tickCount":100,"format":"d","values":[0,1,2,3]}}}},
  {"data":{"name":"betaH"},"mark":{"type":"line","strokeWidth":4,"strokeCap":"round"},"encoding":{"x":{"field":"t","type":"quantitative","scale":{"domain":[3,24],"nice":false,"zero":false}},"y":{"field":"v","type":"quantitative","scale":{"domain":[-0.19,3.16],"nice":false,"zero":false}},"detail":{"field":"seg"},"color":{"field":"k","type":"nominal","scale":{"domain":["R","G"],"range":["#e62222","#2a8c2a"]},"legend":null}}},
  {"data":{"values":[{}]},"mark":{"type":"rule","color":"#333","strokeWidth":0.8},"encoding":{"x":{"datum":3.49,"type":"quantitative","scale":{"domain":[3,24],"nice":false,"zero":false}},"y":{"datum":2.69,"type":"quantitative","scale":{"domain":[-0.19,3.16],"nice":false,"zero":false}},"x2":{"datum":3.93},"y2":{"datum":1.44}}},
  {"data":{"values":[{}]},"mark":{"type":"text","text":"β","font":"Liberation Serif","fontSize":21,"align":"center","baseline":"middle","color":"#333"},"encoding":{"x":{"datum":3.48,"type":"quantitative","scale":{"domain":[3,24],"nice":false,"zero":false}},"y":{"datum":2.9,"type":"quantitative","scale":{"domain":[-0.19,3.16],"nice":false,"zero":false}}}},
  {"data":{"values":[{}]},"mark":{"type":"text","text":"b","font":"Liberation Sans","fontSize":20,"fontWeight":"bold","align":"center","baseline":"middle","color":"#000"},"encoding":{"x":{"datum":19.89,"type":"quantitative","scale":{"domain":[3,24],"nice":false,"zero":false}},"y":{"datum":2.32,"type":"quantitative","scale":{"domain":[-0.19,3.16],"nice":false,"zero":false}}}}
]},
{"bounds":"flush","spacing":44,"vconcat":[
{"width":508,"height":100,"resolve":{"scale":{"y":"independent"}},"layer":[
 {"layer":[
  {"data":{"name":"em"},"mark":{"type":"line","color":"#111","strokeWidth":2},"encoding":{"x":{"field":"t","type":"quantitative","scale":{"domain":[3,24],"nice":false,"zero":false},"axis":{"title":null,"tickCount":100,"format":"d","values":[4,5,6,7,8,9,10,11,12,13,14,15,16,17,18,19,20,21,22,23,24],"labelExpr":"datum.value == 24 ? '24UT' : (datum.value % 4 == 0 ? datum.label : '')","labelAlign":{"condition":{"test":"datum.value == 24","value":"left"},"value":"center"},"labelOffset":{"condition":{"test":"datum.value == 24","value":-5},"value":0},"labelOverlap":false,"labelFlush":false,"labelPadding":5}},"y":{"field":"v","type":"quantitative","scale":{"domain":[-0.6,33.4],"nice":false,"zero":false},"axis":{"title":null,"tickCount":100,"format":"d","values":[0,10,20,30]}}}},
  {"data":{"values":[{}]},"mark":{"type":"text","text":"E","font":"Liberation Sans","fontSize":18,"fontStyle":"italic","fontWeight":"bold","align":"left","baseline":"middle","color":"#000"},"encoding":{"x":{"datum":3.2,"type":"quantitative","scale":{"domain":[3,24],"nice":false,"zero":false}},"y":{"datum":30.1,"type":"quantitative","scale":{"domain":[-0.6,33.4],"nice":false,"zero":false}}}},
  {"data":{"values":[{}]},"mark":{"type":"text","text":"m","font":"Liberation Sans","fontSize":12,"fontStyle":"italic","fontWeight":"bold","align":"left","baseline":"middle","color":"#000","dx":12,"dy":5},"encoding":{"x":{"datum":3.2,"type":"quantitative","scale":{"domain":[3,24],"nice":false,"zero":false}},"y":{"datum":30.1,"type":"quantitative","scale":{"domain":[-0.6,33.4],"nice":false,"zero":false}}}},
  {"data":{"values":[{}]},"mark":{"type":"text","text":", mV/m","font":"Liberation Sans","fontSize":18,"fontWeight":"bold","align":"left","baseline":"middle","color":"#000","dx":22.5},"encoding":{"x":{"datum":3.2,"type":"quantitative","scale":{"domain":[3,24],"nice":false,"zero":false}},"y":{"datum":30.1,"type":"quantitative","scale":{"domain":[-0.6,33.4],"nice":false,"zero":false}}}},
  {"data":{"values":[{}]},"mark":{"type":"text","text":"E","font":"Liberation Serif","fontSize":17,"fontStyle":"italic","align":"left","baseline":"middle","color":"#000"},"encoding":{"x":{"datum":16.37,"type":"quantitative","scale":{"domain":[3,24],"nice":false,"zero":false}},"y":{"datum":31.3,"type":"quantitative","scale":{"domain":[-0.6,33.4],"nice":false,"zero":false}}}},
  {"data":{"values":[{}]},"mark":{"type":"text","text":"m","font":"Liberation Serif","fontSize":12,"fontStyle":"italic","align":"left","baseline":"middle","color":"#000","dx":10.5,"dy":4},"encoding":{"x":{"datum":16.37,"type":"quantitative","scale":{"domain":[3,24],"nice":false,"zero":false}},"y":{"datum":31.3,"type":"quantitative","scale":{"domain":[-0.6,33.4],"nice":false,"zero":false}}}},
  {"data":{"values":[{}]},"mark":{"type":"text","text":"c","font":"Liberation Sans","fontSize":19,"fontWeight":"bold","align":"center","baseline":"middle","color":"#000"},"encoding":{"x":{"datum":19.8,"type":"quantitative","scale":{"domain":[3,24],"nice":false,"zero":false}},"y":{"datum":31.3,"type":"quantitative","scale":{"domain":[-0.6,33.4],"nice":false,"zero":false}}}},
  {"data":{"values":[{}]},"mark":{"type":"text","text":"K","font":"Liberation Sans","fontSize":19,"fontStyle":"italic","fontWeight":"bold","align":"left","baseline":"middle","color":"#000"},"encoding":{"x":{"datum":17.11,"type":"quantitative","scale":{"domain":[3,24],"nice":false,"zero":false}},"y":{"datum":3.4,"type":"quantitative","scale":{"domain":[-0.6,33.4],"nice":false,"zero":false}}}},
  {"data":{"values":[{}]},"mark":{"type":"text","text":"cor","font":"Liberation Sans","fontSize":12,"fontStyle":"italic","fontWeight":"bold","align":"left","baseline":"middle","color":"#000","dx":13.7,"dy":4},"encoding":{"x":{"datum":17.11,"type":"quantitative","scale":{"domain":[3,24],"nice":false,"zero":false}},"y":{"datum":3.4,"type":"quantitative","scale":{"domain":[-0.6,33.4],"nice":false,"zero":false}}}},
  {"data":{"values":[{}]},"mark":{"type":"text","text":"(E","font":"Liberation Sans","fontSize":17,"fontStyle":"italic","fontWeight":"bold","align":"left","baseline":"middle","color":"#000","dx":32.4},"encoding":{"x":{"datum":17.11,"type":"quantitative","scale":{"domain":[3,24],"nice":false,"zero":false}},"y":{"datum":3.4,"type":"quantitative","scale":{"domain":[-0.6,33.4],"nice":false,"zero":false}}}},
  {"data":{"values":[{}]},"mark":{"type":"text","text":"m","font":"Liberation Sans","fontSize":12,"fontStyle":"italic","fontWeight":"bold","align":"left","baseline":"middle","color":"#000","dx":49.4,"dy":4},"encoding":{"x":{"datum":17.11,"type":"quantitative","scale":{"domain":[3,24],"nice":false,"zero":false}},"y":{"datum":3.4,"type":"quantitative","scale":{"domain":[-0.6,33.4],"nice":false,"zero":false}}}},
  {"data":{"values":[{}]},"mark":{"type":"text","text":", Byz)=0.87","font":"Liberation Sans","fontSize":17,"fontStyle":"italic","fontWeight":"bold","align":"left","baseline":"middle","color":"#000","dx":60},"encoding":{"x":{"datum":17.11,"type":"quantitative","scale":{"domain":[3,24],"nice":false,"zero":false}},"y":{"datum":3.4,"type":"quantitative","scale":{"domain":[-0.6,33.4],"nice":false,"zero":false}}}}
 ]},
 {"layer":[
  {"data":{"name":"byz"},"mark":{"type":"line","color":"#1c2ee0","strokeWidth":2},"encoding":{"x":{"field":"t","type":"quantitative","scale":{"domain":[3,24],"nice":false,"zero":false}},"y":{"field":"v","type":"quantitative","scale":{"domain":[-1.4,81.9],"nice":false,"zero":false},"axis":{"title":null,"tickCount":100,"format":"d","orient":"right","values":[0,25,50]}}}},
  {"data":{"values":[{}]},"mark":{"type":"rule","color":"#1c2ee0","strokeWidth":1.2},"encoding":{"x":{"datum":20.1,"type":"quantitative","scale":{"domain":[3,24],"nice":false,"zero":false}},"y":{"datum":30.6,"type":"quantitative","scale":{"domain":[-1.4,81.9],"nice":false,"zero":false}},"x2":{"datum":22.9},"y2":{"datum":73.6}}},
  {"data":{"values":[{}]},"mark":{"type":"text","text":"B","font":"Liberation Sans","fontSize":18,"fontStyle":"italic","fontWeight":"bold","align":"left","baseline":"middle","color":"#1c2ee0"},"encoding":{"x":{"datum":22.5,"type":"quantitative","scale":{"domain":[3,24],"nice":false,"zero":false}},"y":{"datum":86.3,"type":"quantitative","scale":{"domain":[-1.4,81.9],"nice":false,"zero":false}}}},
  {"data":{"values":[{}]},"mark":{"type":"text","text":"yz","font":"Liberation Sans","fontSize":13,"fontStyle":"italic","fontWeight":"bold","align":"left","baseline":"middle","color":"#1c2ee0","dx":13,"dy":4},"encoding":{"x":{"datum":22.5,"type":"quantitative","scale":{"domain":[3,24],"nice":false,"zero":false}},"y":{"datum":86.3,"type":"quantitative","scale":{"domain":[-1.4,81.9],"nice":false,"zero":false}}}},
  {"data":{"values":[{}]},"mark":{"type":"text","text":", nT","font":"Liberation Sans","fontSize":18,"fontStyle":"italic","fontWeight":"bold","align":"left","baseline":"middle","color":"#1c2ee0","dx":26.5},"encoding":{"x":{"datum":22.5,"type":"quantitative","scale":{"domain":[3,24],"nice":false,"zero":false}},"y":{"datum":86.3,"type":"quantitative","scale":{"domain":[-1.4,81.9],"nice":false,"zero":false}}}}
 ]},
 {"layer":[
  {"data":{"name":"emH"},"mark":{"type":"line","strokeWidth":4,"strokeCap":"round"},"encoding":{"x":{"field":"t","type":"quantitative","scale":{"domain":[3,24],"nice":false,"zero":false}},"y":{"field":"v","type":"quantitative","scale":{"domain":[-0.6,33.4],"nice":false,"zero":false},"axis":null},"detail":{"field":"seg"},"color":{"field":"k","type":"nominal","scale":{"domain":["R","G"],"range":["#e62222","#2a8c2a"]},"legend":null}}}
 ]}
]},
{"bounds":"flush","spacing":37,"vconcat":[
{"width":508,"height":105,"resolve":{"scale":{"y":"independent"}},"layer":[
 {"layer":[
  {"data":{"name":"pd"},"mark":{"type":"line","color":"#333","strokeWidth":1},"encoding":{"x":{"field":"t","type":"quantitative","scale":{"domain":[3,24],"nice":false,"zero":false},"axis":{"title":null,"tickCount":100,"format":"d","values":[4,5,6,7,8,9,10,11,12,13,14,15,16,17,18,19,20,21,22,23,24],"labelExpr":"datum.value == 24 ? '24UT' : (datum.value % 4 == 0 ? datum.label : '')","labelAlign":{"condition":{"test":"datum.value == 24","value":"left"},"value":"center"},"labelOffset":{"condition":{"test":"datum.value == 24","value":-5},"value":0},"labelOverlap":false,"labelFlush":false,"labelPadding":5}},"y":{"field":"v","type":"quantitative","scale":{"domain":[0,30.4],"nice":false,"zero":false},"axis":{"title":null,"tickCount":100,"format":"d","values":[0,10,20,30]}}}},
  {"data":{"values":[{}]},"mark":{"type":"rule","color":"#111","strokeWidth":0.8},"encoding":{"x":{"datum":3.79,"type":"quantitative","scale":{"domain":[3,24],"nice":false,"zero":false}},"y":{"datum":24.6,"type":"quantitative","scale":{"domain":[0,30.4],"nice":false,"zero":false}},"x2":{"datum":3.99},"y2":{"datum":4.3}}},
  {"data":{"values":[{}]},"mark":{"type":"text","text":"P","font":"Liberation Sans","fontSize":18,"fontStyle":"italic","fontWeight":"bold","align":"left","baseline":"middle","color":"#000"},"encoding":{"x":{"datum":3.2,"type":"quantitative","scale":{"domain":[3,24],"nice":false,"zero":false}},"y":{"datum":26.5,"type":"quantitative","scale":{"domain":[0,30.4],"nice":false,"zero":false}}}},
  {"data":{"values":[{}]},"mark":{"type":"text","text":"d","font":"Liberation Sans","fontSize":12,"fontStyle":"italic","fontWeight":"bold","align":"left","baseline":"middle","color":"#000","dx":12,"dy":4},"encoding":{"x":{"datum":3.2,"type":"quantitative","scale":{"domain":[3,24],"nice":false,"zero":false}},"y":{"datum":26.5,"type":"quantitative","scale":{"domain":[0,30.4],"nice":false,"zero":false}}}},
  {"data":{"values":[{}]},"mark":{"type":"text","text":", nPa","font":"Liberation Sans","fontSize":18,"fontWeight":"bold","align":"left","baseline":"middle","color":"#000","dx":19.5},"encoding":{"x":{"datum":3.2,"type":"quantitative","scale":{"domain":[3,24],"nice":false,"zero":false}},"y":{"datum":26.5,"type":"quantitative","scale":{"domain":[0,30.4],"nice":false,"zero":false}}}},
  {"data":{"values":[{}]},"mark":{"type":"text","text":"P","font":"Liberation Sans","fontSize":18,"fontStyle":"italic","fontWeight":"bold","align":"left","baseline":"middle","color":"#000"},"encoding":{"x":{"datum":9.61,"type":"quantitative","scale":{"domain":[3,24],"nice":false,"zero":false}},"y":{"datum":26.5,"type":"quantitative","scale":{"domain":[0,30.4],"nice":false,"zero":false}}}},
  {"data":{"values":[{}]},"mark":{"type":"text","text":"d","font":"Liberation Sans","fontSize":12,"fontStyle":"italic","fontWeight":"bold","align":"left","baseline":"middle","color":"#000","dx":12,"dy":4},"encoding":{"x":{"datum":9.61,"type":"quantitative","scale":{"domain":[3,24],"nice":false,"zero":false}},"y":{"datum":26.5,"type":"quantitative","scale":{"domain":[0,30.4],"nice":false,"zero":false}}}},
  {"data":{"values":[{}]},"mark":{"type":"text","text":"n","font":"Liberation Sans","fontSize":18,"fontStyle":"italic","fontWeight":"bold","align":"left","baseline":"middle","color":"#000"},"encoding":{"x":{"datum":9.61,"type":"quantitative","scale":{"domain":[3,24],"nice":false,"zero":false}},"y":{"datum":9.6,"type":"quantitative","scale":{"domain":[0,30.4],"nice":false,"zero":false}}}},
  {"data":{"values":[{}]},"mark":{"type":"text","text":"d","font":"Liberation Sans","fontSize":21,"fontWeight":"bold","align":"center","baseline":"middle","color":"#000"},"encoding":{"x":{"datum":20.01,"type":"quantitative","scale":{"domain":[3,24],"nice":false,"zero":false}},"y":{"datum":26.5,"type":"quantitative","scale":{"domain":[0,30.4],"nice":false,"zero":false}}}},
  {"data":{"values":[{}]},"mark":{"type":"text","text":"K","font":"Liberation Sans","fontSize":19,"fontStyle":"italic","fontWeight":"bold","align":"left","baseline":"middle","color":"#000"},"encoding":{"x":{"datum":16.5,"type":"quantitative","scale":{"domain":[3,24],"nice":false,"zero":false}},"y":{"datum":4.35,"type":"quantitative","scale":{"domain":[0,30.4],"nice":false,"zero":false}}}},
  {"data":{"values":[{}]},"mark":{"type":"text","text":"cor","font":"Liberation Sans","fontSize":12,"fontStyle":"italic","fontWeight":"bold","align":"left","baseline":"middle","color":"#000","dx":13.7,"dy":4},"encoding":{"x":{"datum":16.5,"type":"quantitative","scale":{"domain":[3,24],"nice":false,"zero":false}},"y":{"datum":4.35,"type":"quantitative","scale":{"domain":[0,30.4],"nice":false,"zero":false}}}},
  {"data":{"values":[{}]},"mark":{"type":"text","text":"(P","font":"Liberation Sans","fontSize":17,"fontStyle":"italic","fontWeight":"bold","align":"left","baseline":"middle","color":"#000","dx":32.4},"encoding":{"x":{"datum":16.5,"type":"quantitative","scale":{"domain":[3,24],"nice":false,"zero":false}},"y":{"datum":4.35,"type":"quantitative","scale":{"domain":[0,30.4],"nice":false,"zero":false}}}},
  {"data":{"values":[{}]},"mark":{"type":"text","text":"d","font":"Liberation Sans","fontSize":12,"fontStyle":"italic","fontWeight":"bold","align":"left","baseline":"middle","color":"#000","dx":49.4,"dy":4},"encoding":{"x":{"datum":16.5,"type":"quantitative","scale":{"domain":[3,24],"nice":false,"zero":false}},"y":{"datum":4.35,"type":"quantitative","scale":{"domain":[0,30.4],"nice":false,"zero":false}}}},
  {"data":{"values":[{}]},"mark":{"type":"text","text":", n)=0.94","font":"Liberation Sans","fontSize":17,"fontStyle":"italic","fontWeight":"bold","align":"left","baseline":"middle","color":"#000","dx":57},"encoding":{"x":{"datum":16.5,"type":"quantitative","scale":{"domain":[3,24],"nice":false,"zero":false}},"y":{"datum":4.35,"type":"quantitative","scale":{"domain":[0,30.4],"nice":false,"zero":false}}}}
 ]},
 {"layer":[
  {"data":{"name":"n"},"mark":{"type":"line","color":"#1c2ee0","strokeWidth":2},"encoding":{"x":{"field":"t","type":"quantitative","scale":{"domain":[3,24],"nice":false,"zero":false}},"y":{"field":"v","type":"quantitative","scale":{"domain":[-0.8,51.7],"nice":false,"zero":false},"axis":{"title":null,"tickCount":100,"format":"d","orient":"right","values":[0,20,40]}}}},
  {"data":{"values":[{}]},"mark":{"type":"rule","color":"#1c2ee0","strokeWidth":0.8},"encoding":{"x":{"datum":23.45,"type":"quantitative","scale":{"domain":[3,24],"nice":false,"zero":false}},"y":{"datum":47.5,"type":"quantitative","scale":{"domain":[-0.8,51.7],"nice":false,"zero":false}},"x2":{"datum":22.77},"y2":{"datum":8.35}}},
  {"data":{"values":[{}]},"mark":{"type":"text","text":"n,","font":"Liberation Sans","fontSize":17,"fontStyle":"italic","fontWeight":"bold","align":"left","baseline":"middle","color":"#1c2ee0"},"encoding":{"x":{"datum":23.2,"type":"quantitative","scale":{"domain":[3,24],"nice":false,"zero":false}},"y":{"datum":49.5,"type":"quantitative","scale":{"domain":[-0.8,51.7],"nice":false,"zero":false}}}},
  {"data":{"values":[{}]},"mark":{"type":"text","text":" cm","font":"Liberation Sans","fontSize":17,"fontWeight":"bold","align":"left","baseline":"middle","color":"#1c2ee0","dx":15},"encoding":{"x":{"datum":23.2,"type":"quantitative","scale":{"domain":[3,24],"nice":false,"zero":false}},"y":{"datum":49.5,"type":"quantitative","scale":{"domain":[-0.8,51.7],"nice":false,"zero":false}}}},
  {"data":{"values":[{}]},"mark":{"type":"text","text":"-3","font":"Liberation Sans","fontSize":11,"fontWeight":"bold","align":"left","baseline":"middle","color":"#1c2ee0","dx":44,"dy":-6},"encoding":{"x":{"datum":23.2,"type":"quantitative","scale":{"domain":[3,24],"nice":false,"zero":false}},"y":{"datum":49.5,"type":"quantitative","scale":{"domain":[-0.8,51.7],"nice":false,"zero":false}}}}
 ]},
 {"layer":[
  {"data":{"name":"pdH"},"mark":{"type":"line","strokeWidth":4,"strokeCap":"round"},"encoding":{"x":{"field":"t","type":"quantitative","scale":{"domain":[3,24],"nice":false,"zero":false}},"y":{"field":"v","type":"quantitative","scale":{"domain":[0,30.4],"nice":false,"zero":false},"axis":null},"detail":{"field":"seg"},"color":{"field":"k","type":"nominal","scale":{"domain":["R","G"],"range":["#e62222","#2a8c2a"]},"legend":null}}}
 ]}
]},
{"bounds":"flush","spacing":46,"vconcat":[
{"width":508,"height":104,"resolve":{"scale":{"y":"independent"}},"layer":[
 {"layer":[
  {"data":{"name":"ae"},"mark":{"type":"line","color":"#111","strokeWidth":2},"encoding":{"x":{"field":"t","type":"quantitative","scale":{"domain":[3,24],"nice":false,"zero":false},"axis":{"title":null,"tickCount":100,"format":"d","values":[4,5,6,7,8,9,10,11,12,13,14,15,16,17,18,19,20,21,22,23,24],"labelExpr":"datum.value == 24 ? '24UT' : (datum.value % 4 == 0 ? datum.label : '')","labelAlign":{"condition":{"test":"datum.value == 24","value":"left"},"value":"center"},"labelOffset":{"condition":{"test":"datum.value == 24","value":-5},"value":0},"labelOverlap":false,"labelFlush":false,"labelPadding":5}},"y":{"field":"v","type":"quantitative","scale":{"domain":[0,3030],"nice":false,"zero":false},"axis":{"title":null,"tickCount":100,"values":[0,1000,2000,3000],"format":"d"}}}},
  {"data":{"values":[{}]},"mark":{"type":"rule","color":"#111","strokeWidth":0.8},"encoding":{"x":{"datum":4.03,"type":"quantitative","scale":{"domain":[3,24],"nice":false,"zero":false}},"y":{"datum":2643,"type":"quantitative","scale":{"domain":[0,3030],"nice":false,"zero":false}},"y2":{"datum":560}}},
  {"data":{"values":[{}]},"mark":{"type":"text","text":"AE, nT","font":"Liberation Sans","fontSize":16,"fontWeight":"bold","align":"left","baseline":"middle","color":"#000"},"encoding":{"x":{"datum":3.2,"type":"quantitative","scale":{"domain":[3,24],"nice":false,"zero":false}},"y":{"datum":2897,"type":"quantitative","scale":{"domain":[0,3030],"nice":false,"zero":false}}}},
  {"data":{"values":[{}]},"mark":{"type":"text","text":"e","font":"Liberation Sans","fontSize":21,"fontWeight":"bold","align":"center","baseline":"middle","color":"#000"},"encoding":{"x":{"datum":19.87,"type":"quantitative","scale":{"domain":[3,24],"nice":false,"zero":false}},"y":{"datum":2404,"type":"quantitative","scale":{"domain":[0,3030],"nice":false,"zero":false}}}}
 ]},
 {"layer":[
  {"data":{"values":[{}]},"mark":{"type":"rule","color":"#333","strokeWidth":1},"encoding":{"y":{"datum":0,"type":"quantitative","scale":{"domain":[-59.8,25.5],"nice":false,"zero":false},"axis":{"title":null,"tickCount":100,"orient":"right","values":[-50,-25,0],"labelExpr":"'' + datum.value"}}}},
  {"data":{"name":"bz"},"mark":{"type":"line","color":"#1c2ee0","strokeWidth":1.8},"encoding":{"x":{"field":"t","type":"quantitative","scale":{"domain":[3,24],"nice":false,"zero":false}},"y":{"field":"v","type":"quantitative","scale":{"domain":[-59.8,25.5],"nice":false,"zero":false}}}},
  {"data":{"values":[{}]},"mark":{"type":"rule","color":"#1c2ee0","strokeWidth":0.8},"encoding":{"x":{"datum":23.11,"type":"quantitative","scale":{"domain":[3,24],"nice":false,"zero":false}},"y":{"datum":19,"type":"quantitative","scale":{"domain":[-59.8,25.5],"nice":false,"zero":false}},"x2":{"datum":22.15},"y2":{"datum":-13.6}}},
  {"data":{"values":[{}]},"mark":{"type":"text","text":"B","font":"Liberation Sans","fontSize":18,"fontStyle":"italic","fontWeight":"bold","align":"left","baseline":"middle","color":"#1c2ee0"},"encoding":{"x":{"datum":23.11,"type":"quantitative","scale":{"domain":[3,24],"nice":false,"zero":false}},"y":{"datum":21.7,"type":"quantitative","scale":{"domain":[-59.8,25.5],"nice":false,"zero":false}}}},
  {"data":{"values":[{}]},"mark":{"type":"text","text":"z","font":"Liberation Sans","fontSize":13,"fontStyle":"italic","fontWeight":"bold","align":"left","baseline":"middle","color":"#1c2ee0","dx":13,"dy":4},"encoding":{"x":{"datum":23.11,"type":"quantitative","scale":{"domain":[3,24],"nice":false,"zero":false}},"y":{"datum":21.7,"type":"quantitative","scale":{"domain":[-59.8,25.5],"nice":false,"zero":false}}}},
  {"data":{"values":[{}]},"mark":{"type":"text","text":", nT","font":"Liberation Sans","fontSize":18,"fontStyle":"italic","fontWeight":"bold","align":"left","baseline":"middle","color":"#1c2ee0","dx":20},"encoding":{"x":{"datum":23.11,"type":"quantitative","scale":{"domain":[3,24],"nice":false,"zero":false}},"y":{"datum":21.7,"type":"quantitative","scale":{"domain":[-59.8,25.5],"nice":false,"zero":false}}}}
 ]},
 {"layer":[
  {"data":{"name":"aeH"},"mark":{"type":"line","strokeWidth":4.5,"strokeCap":"round"},"encoding":{"x":{"field":"t","type":"quantitative","scale":{"domain":[3,24],"nice":false,"zero":false}},"y":{"field":"v","type":"quantitative","scale":{"domain":[0,3030],"nice":false,"zero":false},"axis":null},"detail":{"field":"seg"},"color":{"field":"k","type":"nominal","scale":{"domain":["R","G"],"range":["#e62222","#2a8c2a"]},"legend":null}}}
 ]}
]},
{"width":508,"height":85,"resolve":{"scale":{"y":"independent"}},"layer":[
 {"layer":[
  {"data":{"name":"psi"},"mark":{"type":"line","color":"#111","strokeWidth":2},"encoding":{"x":{"field":"t","type":"quantitative","scale":{"domain":[3,24],"nice":false,"zero":false},"axis":{"title":null,"tickCount":100,"format":"d","values":[4,5,6,7,8,9,10,11,12,13,14,15,16,17,18,19,20,21,22,23,24],"labelExpr":"datum.value == 24 ? '24UT' : (datum.value % 4 == 0 ? datum.label : '')","labelAlign":{"condition":{"test":"datum.value == 24","value":"left"},"value":"center"},"labelOffset":{"condition":{"test":"datum.value == 24","value":-5},"value":0},"labelOverlap":false,"labelFlush":false,"labelPadding":5}},"y":{"field":"v","type":"quantitative","scale":{"domain":[0,1.22],"nice":false,"zero":false},"axis":{"title":null,"tickCount":100,"values":[0,0.4,0.8,1.2],"labelExpr":"datum.value == 0 ? '0' : format(datum.value, '.1f')"}}}},
  {"data":{"values":[{}]},"mark":{"type":"text","text":"Ψ","font":"Liberation Serif","fontSize":17,"fontWeight":"bold","align":"left","baseline":"middle","color":"#000"},"encoding":{"x":{"datum":3.34,"type":"quantitative","scale":{"domain":[3,24],"nice":false,"zero":false}},"y":{"datum":1.22,"type":"quantitative","scale":{"domain":[0,1.22],"nice":false,"zero":false}}}},
  {"data":{"values":[{}]},"mark":{"type":"text","text":"1","font":"Liberation Serif","fontSize":11,"fontWeight":"bold","align":"left","baseline":"middle","color":"#000","dx":13,"dy":4},"encoding":{"x":{"datum":3.34,"type":"quantitative","scale":{"domain":[3,24],"nice":false,"zero":false}},"y":{"datum":1.22,"type":"quantitative","scale":{"domain":[0,1.22],"nice":false,"zero":false}}}},
  {"data":{"values":[{}]},"mark":{"type":"text","text":", GWb","font":"Liberation Serif","fontSize":17,"fontWeight":"bold","align":"left","baseline":"middle","color":"#000","dx":19},"encoding":{"x":{"datum":3.34,"type":"quantitative","scale":{"domain":[3,24],"nice":false,"zero":false}},"y":{"datum":1.22,"type":"quantitative","scale":{"domain":[0,1.22],"nice":false,"zero":false}}}},
  {"data":{"values":[{}]},"mark":{"type":"text","text":"f","font":"Liberation Sans","fontSize":21,"fontWeight":"bold","align":"center","baseline":"middle","color":"#000"},"encoding":{"x":{"datum":19.8,"type":"quantitative","scale":{"domain":[3,24],"nice":false,"zero":false}},"y":{"datum":1.148,"type":"quantitative","scale":{"domain":[0,1.22],"nice":false,"zero":false}}}}
 ]},
 {"layer":[
  {"data":{"values":[{}]},"mark":{"type":"rule","color":"#333","strokeWidth":1},"encoding":{"y":{"datum":0,"type":"quantitative","scale":{"domain":[-491,120],"nice":false,"zero":false},"axis":{"title":null,"tickCount":100,"orient":"right","values":[-400,-200,0],"labelExpr":"'' + datum.value"}}}},
  {"data":{"name":"sym"},"mark":{"type":"line","color":"#1c2ee0","strokeWidth":2},"encoding":{"x":{"field":"t","type":"quantitative","scale":{"domain":[3,24],"nice":false,"zero":false}},"y":{"field":"v","type":"quantitative","scale":{"domain":[-491,120],"nice":false,"zero":false}}}},
  {"data":{"values":[{}]},"mark":{"type":"rule","color":"#1c2ee0","strokeWidth":0.8},"encoding":{"x":{"datum":22.83,"type":"quantitative","scale":{"domain":[3,24],"nice":false,"zero":false}},"y":{"datum":84,"type":"quantitative","scale":{"domain":[-491,120],"nice":false,"zero":false}},"x2":{"datum":23.25},"y2":{"datum":-312}}},
  {"data":{"values":[{}]},"mark":{"type":"text","text":"SYM-H,","font":"Liberation Sans","fontSize":12,"fontStyle":"italic","fontWeight":"bold","align":"left","baseline":"middle","color":"#1c2ee0"},"encoding":{"x":{"datum":21.6,"type":"quantitative","scale":{"domain":[3,24],"nice":false,"zero":false}},"y":{"datum":112,"type":"quantitative","scale":{"domain":[-491,120],"nice":false,"zero":false}}}},
  {"data":{"values":[{}]},"mark":{"type":"text","text":"nT","font":"Liberation Sans","fontSize":18,"fontStyle":"italic","fontWeight":"bold","align":"left","baseline":"middle","color":"#1c2ee0","dx":45},"encoding":{"x":{"datum":21.6,"type":"quantitative","scale":{"domain":[3,24],"nice":false,"zero":false}},"y":{"datum":112,"type":"quantitative","scale":{"domain":[-491,120],"nice":false,"zero":false}}}}
 ]},
 {"layer":[
  {"data":{"name":"psiH"},"mark":{"type":"line","strokeWidth":4.5,"strokeCap":"round"},"encoding":{"x":{"field":"t","type":"quantitative","scale":{"domain":[3,24],"nice":false,"zero":false}},"y":{"field":"v","type":"quantitative","scale":{"domain":[0,1.22],"nice":false,"zero":false},"axis":null},"detail":{"field":"seg"},"color":{"field":"k","type":"nominal","scale":{"domain":["R","G"],"range":["#e62222","#2a8c2a"]},"legend":null}}}
 ]}
]}
]}
]}
]}
]}
]
}
